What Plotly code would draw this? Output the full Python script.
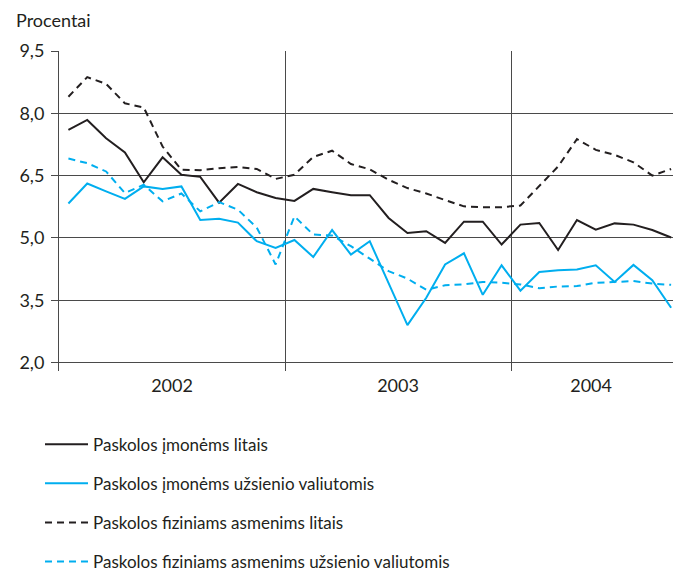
import plotly.graph_objects as go

# monthly data, Jan 2002 - Sep 2004
months = list(range(33))
years = ["2002", "2003", "2004"]
series_names = [
    "Paskolos įmonėms litais",
    "Paskolos įmonėms užsienio valiutomis",
    "Paskolos fiziniams asmenims litais",
    "Paskolos fiziniams asmenims užsienio valiutomis",
]

imones_lt = [7.60, 7.84, 7.40, 7.06, 6.34, 6.94, 6.52, 6.47, 5.85, 6.30, 6.10, 5.96,
             5.89, 6.18, 6.10, 6.03, 6.03, 5.48, 5.12, 5.16, 4.88, 5.39, 5.39, 4.84,
             5.32, 5.36, 4.71, 5.43, 5.20, 5.35, 5.32, 5.19, 5.01]
imones_uv = [5.83, 6.31, 6.12, 5.94, 6.24, 6.18, 6.24, 5.43, 5.46, 5.37, 4.92, 4.76,
             4.95, 4.54, 5.19, 4.60, 4.92, 3.93, 2.90, 3.56, 4.36, 4.63, 3.63, 4.34,
             3.73, 4.18, 4.22, 4.24, 4.34, 3.94, 4.35, 3.98, 3.32]
fiz_lt = [8.40, 8.87, 8.71, 8.24, 8.14, 7.20, 6.64, 6.63, 6.68, 6.71, 6.66, 6.42,
          6.52, 6.95, 7.10, 6.78, 6.65, 6.40, 6.20, 6.07, 5.91, 5.76, 5.74, 5.74,
          5.78, 6.24, 6.72, 7.38, 7.12, 7.00, 6.82, 6.50, 6.66]
fiz_uv = [6.91, 6.80, 6.60, 6.08, 6.28, 5.88, 6.07, 5.64, 5.86, 5.68, 5.25, 4.36,
          5.52, 5.08, 5.06, 4.80, 4.50, 4.20, 4.02, 3.75, 3.86, 3.88, 3.94, 3.92,
          3.88, 3.79, 3.83, 3.84, 3.92, 3.94, 3.96, 3.90, 3.87]

y_ticks = [2.0, 3.5, 5.0, 6.5, 8.0, 9.5]

BLACK = "#231f20"
CYAN = "#00aeef"
GRID = "#4a4a4a"
FONT = "Lato"

# figure is a bit taller than the 574px window so the legend does not push the margins
W, H = 673, 600
L, T = 40, 51          # margins; plot area itself is placed via domains
PX0, PY1 = 59, 372     # left edge / bottom edge of the plot area in pixels
pw, ph = W - L, H - T

x = [m + 0.5 for m in months]  # middle of each month

fig = go.Figure()
styles = [(BLACK, "solid"), (CYAN, "solid"), (BLACK, "7px,5px"), (CYAN, "7px,5px")]
for name, vals, (col, dash) in zip(series_names, [imones_lt, imones_uv, fiz_lt, fiz_uv], styles):
    fig.add_trace(go.Scatter(x=x, y=vals, mode="lines", name=name, legendgroup=name,
                             line=dict(color=col, width=2, dash=dash)))

fig.update_layout(
    width=W, height=H,
    margin=dict(l=L, r=0, t=T, b=0),
    paper_bgcolor="white", plot_bgcolor="white",
    font=dict(family=FONT, size=17, color=BLACK),
    showlegend=True,
    legend=dict(x=0, xanchor="left", y=(H - 428) / ph, yanchor="top",
                tracegroupgap=14, itemwidth=43, font=dict(size=17)),
    annotations=[dict(text="Procentai", xref="paper", yref="paper",
                      x=(14 - L) / pw, y=1 + (T - 20) / ph,
                      xanchor="left", yanchor="middle",
                      showarrow=False, font=dict(size=18))],
)

fig.update_xaxes(
    domain=[(PX0 - L) / pw, 1],
    range=[0, 32.6], showgrid=False, zeroline=False,
    showline=False,
    tickvals=[6, 18, 28.25], ticktext=years, ticks="",
    ticklabelstandoff=2, tickfont=dict(size=18),
    minor=dict(tickvals=[12, 24], showgrid=True, gridcolor=GRID, gridwidth=1),
)
fig.update_yaxes(
    domain=[(H - PY1) / ph, 1],
    range=[1.8, 9.5], tickvals=y_ticks,
    ticktext=[f"{v:.1f}".replace(".", ",") for v in y_ticks],
    showgrid=True, gridcolor=GRID, gridwidth=1, zeroline=False,
    showline=True, linecolor=GRID, linewidth=1,
    ticks="outside", ticklen=7, tickcolor=GRID, tickfont=dict(size=18),
    ticklabelstandoff=3,
)

fig.write_html("out.html", config={"displayModeBar": False},
               post_script="document.body.style.margin='0';"
                           "document.body.style.overflow='hidden';")
